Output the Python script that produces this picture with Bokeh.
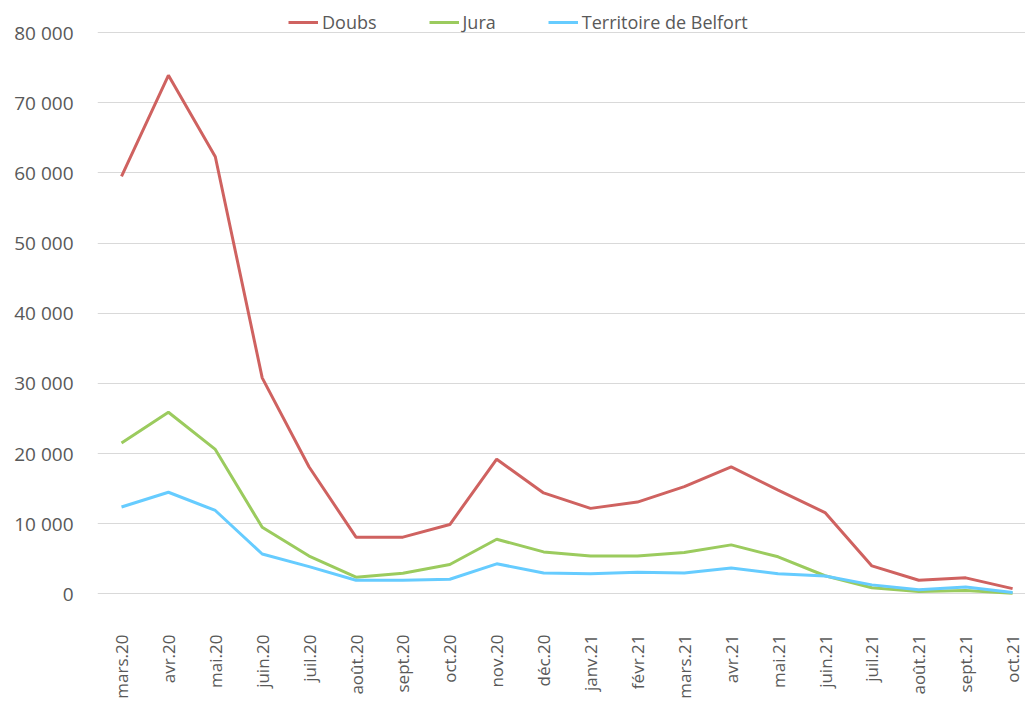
import math
from bokeh.plotting import figure
from bokeh.models import Range1d, FixedTicker, Legend, LegendItem
from bokeh.embed import file_html
from bokeh.resources import INLINE

months = ["mars.20", "avr.20", "mai.20", "juin.20", "juil.20", "août.20", "sept.20",
          "oct.20", "nov.20", "déc.20", "janv.21", "févr.21", "mars.21", "avr.21",
          "mai.21", "juin.21", "juil.21", "août.21", "sept.21", "oct.21"]
doubs = [59500, 73900, 62300, 30800, 18100, 8100, 8100, 9900, 19200, 14400,
         12200, 13100, 15300, 18100, 14800, 11600, 4000, 1950, 2300, 760]
jura = [21500, 25900, 20600, 9500, 5400, 2400, 2950, 4200, 7800, 6000,
        5400, 5400, 5900, 7000, 5300, 2600, 900, 350, 500, 100]
belfort = [12400, 14500, 11900, 5700, 3900, 1950, 1950, 2100, 4300, 3000,
           2900, 3100, 3000, 3700, 2900, 2550, 1300, 600, 1000, 200]
y_ticks = [0, 10000, 20000, 30000, 40000, 50000, 60000, 70000, 80000]

FONT = "Open Sans"
TXT = "#595959"

x = list(range(len(months)))

p = figure(width=1025, height=702, output_backend="svg", toolbar_location=None,
           x_range=Range1d(-0.512, 19.275), y_range=Range1d(-500, 84565),
           min_border_left=97, min_border_right=0, min_border_top=0,
           min_border_bottom=105)
p.outline_line_color = None
p.background_fill_color = "white"
p.border_fill_color = "white"

r1 = p.line(x, doubs, line_color="#CF6260", line_width=3)
r2 = p.line(x, jura, line_color="#9BCB5E", line_width=3)
r3 = p.line(x, belfort, line_color="#66CCFF", line_width=3)

# axes
p.xaxis.ticker = FixedTicker(ticks=x)
p.xaxis.major_label_overrides = {i: m for i, m in enumerate(months)}
p.xaxis.major_label_orientation = math.pi / 2
p.xaxis.major_label_standoff = 31
p.xaxis.major_label_text_font = FONT
p.xaxis.major_label_text_font_size = "17px"
p.xaxis.major_label_text_color = TXT
p.xaxis.axis_line_color = None
p.xaxis.major_tick_line_color = None
p.xaxis.minor_tick_line_color = None

p.yaxis.ticker = FixedTicker(ticks=y_ticks)
p.yaxis.major_label_overrides = {t: f"{t:,}".replace(",", " ") for t in y_ticks}
p.yaxis.major_label_standoff = 18
p.yaxis.major_label_text_font = FONT
p.yaxis.major_label_text_font_size = "19px"
p.yaxis.major_label_text_color = TXT
p.yaxis.axis_line_color = None
p.yaxis.major_tick_line_color = None
p.yaxis.minor_tick_line_color = None

p.xgrid.grid_line_color = None
p.ygrid.grid_line_color = "#D9D9D9"
p.ygrid.grid_line_width = 1

legend = Legend(items=[LegendItem(label="Doubs", renderers=[r1]),
                       LegendItem(label="Jura", renderers=[r2]),
                       LegendItem(label="Territoire de Belfort", renderers=[r3])],
                orientation="horizontal", location=(191, 563),
                label_text_font=FONT, label_text_font_size="18px",
                label_text_color=TXT, glyph_width=30, glyph_height=20,
                label_standoff=4, spacing=52, padding=0, margin=0,
                border_line_color=None, background_fill_alpha=0)
p.add_layout(legend)

open("out.html", "w").write(file_html(p, INLINE))
